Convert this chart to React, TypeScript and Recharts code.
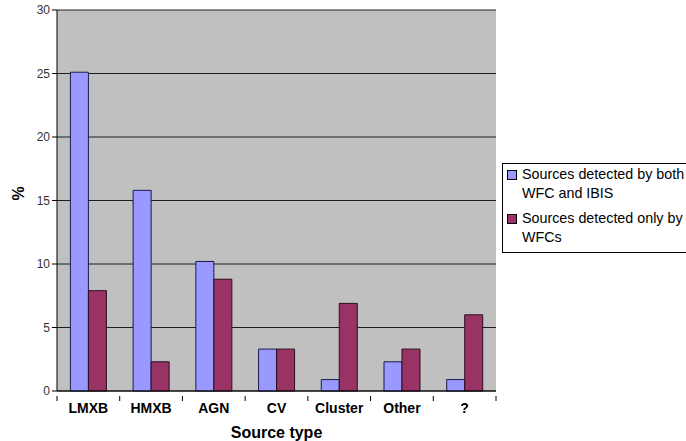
import React from 'react'
import { Bar, BarChart, CartesianGrid, Label, Legend, XAxis, YAxis } from 'recharts'

const categories = ['LMXB', 'HMXB', 'AGN', 'CV', 'Cluster', 'Other', '?']
const bothWfcIbis = [25.1, 15.8, 10.2, 3.3, 0.9, 2.3, 0.9]
const onlyWfc = [7.9, 2.3, 8.8, 3.3, 6.9, 3.3, 6.0]
const yTicks = [0, 5, 10, 15, 20, 25, 30]
const seriesNames = ['Sources detected by both WFC and IBIS', 'Sources detected only by WFCs']
const legendLines = [['Sources detected by both', 'WFC and IBIS'], ['Sources detected only by', 'WFCs']]
const colors = ['#9999FF', '#993366']

const data = categories.map((name, i) => ({ name, both: bothWfcIbis[i], only: onlyWfc[i] }))

const font = 'Arial, "Liberation Sans", sans-serif'

// category label plus the Excel-style tick marks between categories
const CategoryTick = (props: any) => {
  const { x, y, payload, index } = props
  const half = payload.offset || 0
  const last = index === categories.length - 1
  return (
    <g>
      <line x1={x - half} x2={x - half} y1={y - 6} y2={y - 1} stroke="#000" />
      {last && <line x1={x + half} x2={x + half} y1={y - 6} y2={y - 1} stroke="#000" />}
      <text x={x} y={y + 11} textAnchor="middle" fill="#000" fontSize={14} fontWeight="bold" fontFamily={font}>{payload.value}</text>
    </g>
  )
}

const LegendBox = () => (
  <div style={{ border: '1px solid #000', background: '#fff', padding: '1px 8px 5px 4px', fontFamily: font, fontSize: 14.3, color: '#000', width: 200, boxSizing: 'border-box' }}>
    {legendLines.map((lines, i) => (
      <div key={i} style={{ display: 'flex', alignItems: 'flex-start', marginBottom: i === 0 ? 6 : 0, lineHeight: '19px' }}>
        <span style={{ width: 8, height: 8, background: colors[i], border: '1px solid #000', marginTop: 5, marginRight: 5, flex: 'none' }} />
        <span style={{ whiteSpace: 'nowrap' }}>{lines[0]}<br />{lines[1]}</span>
      </div>
    ))}
  </div>
)

const App = () => {
  return (
    <div style={{ position: 'absolute', left: 0, top: 0, background: '#fff' }}>
      <BarChart width={686} height={441} data={data} margin={{ top: 10, right: 190, bottom: 0, left: 0 }} barCategoryGap="21.4%" barGap={0}>
        <CartesianGrid vertical={false} stroke="#000" fill="#C0C0C0" strokeOpacity={0.85} />
        <XAxis dataKey="name" height={50} interval={0} axisLine={{ stroke: '#000' }} tickLine={false} tick={<CategoryTick />} tickMargin={5}>
          <Label value="Source type" position="insideBottom" offset={3} style={{ fill: '#000', fontSize: 16, fontWeight: 'bold', fontFamily: font }} />
        </XAxis>
        <YAxis width={57} domain={[0, 30]} ticks={yTicks} axisLine={{ stroke: '#000' }} tickLine={{ stroke: '#000' }} tickSize={5} tick={{ fill: '#333', fontSize: 12, fontFamily: font }}>
          <Label value="%" angle={-90} position="insideLeft" offset={18} style={{ fill: '#000', fontSize: 16, fontWeight: 'bold', fontFamily: font }} />
        </YAxis>
        <Legend layout="vertical" align="center" verticalAlign="middle" wrapperStyle={{ left: 502, top: 163, width: 200 }} content={() => <LegendBox />} />
        <Bar dataKey="both" name={seriesNames[0]} fill={colors[0]} stroke="#1a1a4d" strokeWidth={1} isAnimationActive={false} />
        <Bar dataKey="only" name={seriesNames[1]} fill={colors[1]} stroke="#2a0f1c" strokeWidth={1} isAnimationActive={false} />
      </BarChart>
    </div>
  )
}

export default App
